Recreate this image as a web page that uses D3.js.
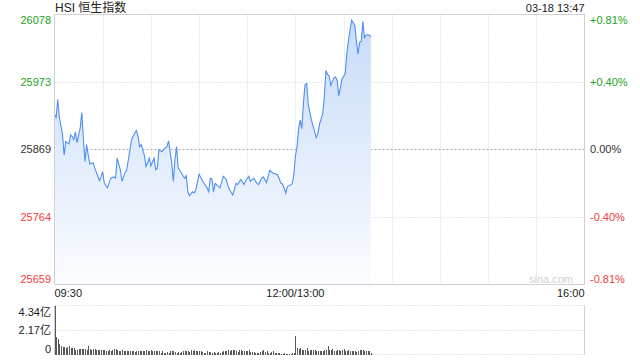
<!DOCTYPE html>
<html>
<head>
	<meta charset="utf-8">
	<title>HSI 恒生指数</title>
	<script src="https://d3js.org/d3.v7.min.js"></script>
	<style>
		body{ margin: 0; background: #fff; }
		text{ font-family: Arial, "Liberation Sans", "Noto Sans CJK SC", sans-serif; }
		.grid{ stroke: #d0d0d0; stroke-width: 1; stroke-dasharray: 1,2; fill: none; }
		.frame{ stroke: #d0d0d0; stroke-width: 1; fill: none; }
	</style>
</head>
<body>
<script>
	// price ticks (left) and percent labels (right)
	var priceTicks = [26078, 25973, 25869, 25764, 25659];
	var pctLabels = ["+0.81%", "+0.40%", "0.00%", "-0.40%", "-0.81%"];
	var tickColors = ["#1ba31b", "#1ba31b", "#333", "#f23b3b", "#f23b3b"];

	// minutes since 09:30 (lunch break removed), 330 in total
	var timeLabels = [{m: 0, t: "09:30"}, {m: 150, t: "12:00/13:00"}, {m: 330, t: "16:00"}];
	var gridMinutes = [30, 60, 90, 120, 150, 180, 210, 240, 270, 300];

	var mins = [0,1,2,3,5,6,7,9,10,11,
		12,13,14,16,17,18,19,20,21,22,
		24,25,26,28,29,30,31,33,35,37,
		38,39,41,42,44,45,46,48,50,51,
		52,53,54,56,57,59,60,62,63,64,
		65,67,68,70,71,72,73,74,75,76,
		77,79,81,82,83,84,86,87,88,90,
		93,95,96,97,98,99,100,103,104,105,
		107,108,109,111,113,114,116,118,119,121,
		122,124,126,127,129,130,132,134,136,139,
		141,142,144,145,148,149,150,151,152,153,
		154,155,156,157,158,160,162,163,164,165,
		167,168,169,170,171,172,174,175,176,177,
		178,179,181,182,183,184,185,187,188,189,
		190,191,192,193,194,195,196,197];

	var prices = [25923,25918,25946,25919,25891,25860,25881,25877,25891,25889,
		25884,25896,25879,25902,25926,25884,25850,25876,25860,25846,
		25848,25840,25834,25820,25826,25834,25816,25809,25824,25826,
		25824,25855,25837,25819,25833,25837,25853,25884,25894,25898,
		25889,25873,25876,25859,25842,25855,25843,25855,25837,25839,
		25868,25865,25869,25873,25882,25865,25847,25819,25853,25873,
		25840,25832,25824,25828,25803,25797,25803,25801,25806,25830,
		25816,25809,25803,25824,25823,25803,25816,25809,25817,25827,
		25822,25812,25806,25798,25816,25814,25822,25814,25820,25827,
		25819,25824,25816,25814,25824,25826,25817,25836,25832,25829,
		25816,25815,25801,25811,25815,25829,25858,25873,25901,25914,
		25901,25941,25969,25971,25938,25914,25896,25887,25893,25908,
		25924,25950,25991,25985,25983,25968,25980,25981,25976,25952,
		25964,25978,25986,26017,26037,26054,26069,26061,26036,26017,
		26035,26036,26067,26042,26046,26047,26046,26043];

	// volume per minute, 亿
	var volAM = [4.34,1.54,1.33,0.94,0.71,0.68,0.65,0.59,0.65,0.71,
		0.62,0.62,0.62,0.44,0.41,0.50,0.50,0.50,0.47,0.50,
		0.44,0.71,0.47,0.41,0.47,0.53,0.38,0.38,0.44,0.41,
		0.36,0.38,0.35,0.32,0.41,0.35,0.44,0.47,0.53,0.38,
		0.35,0.35,0.38,0.35,0.35,0.32,0.27,0.30,0.35,0.27,
		0.21,0.32,0.32,0.35,0.35,0.35,0.35,0.38,0.33,0.35,
		0.44,0.27,0.27,0.30,0.32,0.27,0.15,
		0.30,0.15,0.15,0.18,0.15,0.30,0.35,0.30,0.18,0.15,
		0.18,0.15,0.20,0.27,0.27,0.30,0.32,0.21,0.41,0.32,
		0.44,0.27,0.27,0.35,0.35,0.24,0.15,0.15,0.32,0.21,
		0.18,0.15,0.24,0.15,0.15,0.18,0.15,0.18,0.30,0.32,
		0.32,0.41,0.30,0.41,0.44,0.44,0.30,0.24,0.41,0.41,
		0.35,0.27,0.30,0.27,0.41,0.24,0.21,0.18,0.15,0.15,
		0.15,0.21,0.30,0.38,0.21,0.30,0.15,
		0.15,0.24,0.32,0.15,0.09,0.09,0.09,0.08,0.06,0.09,
		0.06,0.06,0.06,0.06,0.09,0.15,
		1.68];
	var volPM = [0.56,0.50,0.62,0.41,0.44,0.44,0.62,0.35,0.38,0.41,
		0.38,0.36,0.30,0.32,0.35,0.32,0.35,0.41,0.38,0.71,
		0.38,0.41,0.50,0.30,0.30,0.44,0.41,0.30,0.41,0.50,
		0.33,0.35,0.38,0.27,0.30,0.30,0.30,0.21,0.35,0.38,
		0.41,0.41,0.30,0.27,0.27,0.27,0.09];
	var volTicks = [{v: 4.34, t: "4.34亿"}, {v: 2.17, t: "2.17亿"}, {v: 0, t: "0"}];

	var width = 640, height = 360;
	var plotL = 54.5, plotR = 584.5, plotT = 14.5, plotB = 284.5;
	var volT = 305.5, volB = 354.5;

	var svg = d3.select("body").append("svg")
		.attr("width", width).attr("height", height);

	var x = d3.scaleLinear().domain([0, 330]).range([plotL, plotR]);
	var y = d3.scaleLinear().domain([d3.min(priceTicks), d3.max(priceTicks)]).range([plotB, plotT]);
	var yv = d3.scaleLinear().domain([0, 4.34]).range([volB, volT]);

	var defs = svg.append("defs");
	var grad = defs.append("linearGradient").attr("id", "fillGrad")
		.attr("gradientUnits", "userSpaceOnUse")
		.attr("x1", 0).attr("y1", plotT).attr("x2", 0).attr("y2", plotB);
	grad.append("stop").attr("offset", "0%").attr("stop-color", "#c6dbf8");
	grad.append("stop").attr("offset", "100%").attr("stop-color", "#fbfcff");

	// title + date
	svg.append("text").attr("x", 55).attr("y", 12).attr("font-size", 12)
		.attr("fill", "#222").text("HSI 恒生指数");
	svg.append("text").attr("x", plotR).attr("y", 12).attr("font-size", 11)
		.attr("text-anchor", "end").attr("fill", "#222").text("03-18 13:47");

	// grid
	var g = svg.append("g");
	g.selectAll(".vgrid").data(gridMinutes).enter().append("line")
		.attr("class", "grid")
		.attr("x1", function(d){ return Math.round(x(d)) + 0.5; })
		.attr("x2", function(d){ return Math.round(x(d)) + 0.5; })
		.attr("y1", plotT).attr("y2", plotB);
	g.selectAll(".hgrid").data([priceTicks[1], priceTicks[3]]).enter().append("line")
		.attr("class", "grid")
		.attr("x1", plotL).attr("x2", plotR)
		.attr("y1", function(d){ return Math.round(y(d)) + 0.5; })
		.attr("y2", function(d){ return Math.round(y(d)) + 0.5; });
	g.append("line")
		.attr("x1", plotL).attr("x2", plotR)
		.attr("y1", Math.round(y(priceTicks[2])) + 0.5)
		.attr("y2", Math.round(y(priceTicks[2])) + 0.5)
		.attr("stroke", "#aaa").attr("stroke-dasharray", "2,2");

	// area + line
	var points = mins.map(function(m, i){ return {m: m, p: prices[i]}; });
	var area = d3.area()
		.x(function(d){ return x(d.m); })
		.y0(plotB)
		.y1(function(d){ return y(d.p); });
	var line = d3.line()
		.x(function(d){ return x(d.m); })
		.y(function(d){ return y(d.p); });

	svg.append("path").datum(points).attr("d", area)
		.attr("fill", "url(#fillGrad)");
	svg.append("path").datum(points).attr("d", line)
		.attr("fill", "none").attr("stroke", "#4f8ef2").attr("stroke-width", 1.1);

	// frame
	svg.append("rect").attr("class", "frame")
		.attr("x", plotL).attr("y", plotT)
		.attr("width", plotR - plotL).attr("height", plotB - plotT);

	// watermark
	svg.append("text").attr("x", 573).attr("y", 283).attr("font-size", 11)
		.attr("text-anchor", "end").attr("fill", "#cfcfcf").text("sina.com");

	// left + right labels
	function labelY(d, i){
		if (i == 0) return y(d) + 9.5;
		if (i == priceTicks.length - 1) return y(d) - 2;
		return y(d) + 4;
	}
	var labels = svg.append("g");
	labels.selectAll(".lp").data(priceTicks).enter().append("text")
		.attr("x", 51)
		.attr("y", labelY)
		.attr("text-anchor", "end").attr("font-size", 11)
		.attr("fill", function(d, i){ return tickColors[i]; })
		.text(function(d){ return d; });
	labels.selectAll(".rp").data(priceTicks).enter().append("text")
		.attr("x", 590)
		.attr("y", labelY)
		.attr("font-size", 11)
		.attr("fill", function(d, i){ return tickColors[i]; })
		.text(function(d, i){ return pctLabels[i]; });

	// time labels
	labels.selectAll(".tl").data(timeLabels).enter().append("text")
		.attr("x", function(d){ return x(d.m); })
		.attr("y", 297)
		.attr("font-size", 11).attr("fill", "#222")
		.attr("text-anchor", function(d, i){
			return i == 0 ? "start" : (i == timeLabels.length - 1 ? "end" : "middle");
		})
		.text(function(d){ return d.t; });

	// volume panel
	var vg = svg.append("g");
	vg.selectAll(".vg").data(volTicks).enter().append("line")
		.attr("class", "grid")
		.attr("x1", plotL).attr("x2", plotR)
		.attr("y1", function(d){ return Math.round(yv(d.v) - 0.5) + 0.5; })
		.attr("y2", function(d){ return Math.round(yv(d.v) - 0.5) + 0.5; });
	vg.append("line").attr("class", "frame")
		.attr("x1", plotR).attr("x2", plotR).attr("y1", volT).attr("y2", volB);
	vg.append("line").attr("class", "frame")
		.attr("x1", plotL).attr("x2", plotL).attr("y1", volT).attr("y2", volB);

	var vols = volAM.concat(volPM);
	vg.selectAll(".bar").data(vols).enter().append("rect")
		.attr("x", function(d, i){ return Math.round(x(i)) - 0.5; })
		.attr("y", function(d){ return yv(d); })
		.attr("width", 1)
		.attr("height", function(d){ return volB - yv(d); })
		.attr("fill", "#5a5a5a")
		.attr("shape-rendering", "crispEdges");

	vg.selectAll(".vl").data(volTicks).enter().append("text")
		.attr("x", 51)
		.attr("y", function(d, i){
			if (i == 0) return yv(d.v) + 10;
			if (i == volTicks.length - 1) return yv(d.v) - 2;
			return yv(d.v) + 4;
		})
		.attr("text-anchor", "end").attr("font-size", 11).attr("fill", "#222")
		.text(function(d){ return d.t; });
</script>
</body>
</html>
